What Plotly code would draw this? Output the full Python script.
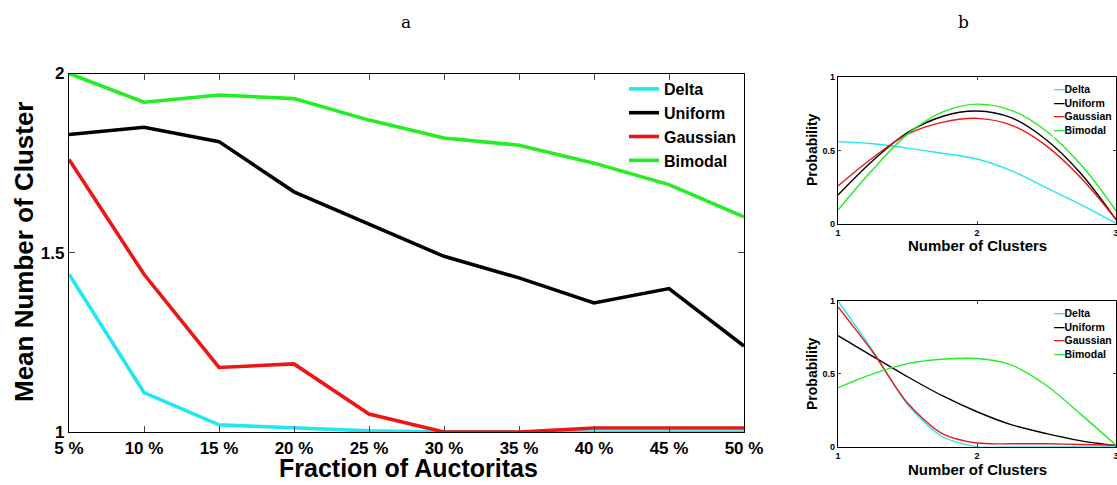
import plotly.graph_objects as go

# ---- main panel (a) ----
fractions = [5, 10, 15, 20, 25, 30, 35, 40, 45, 50]
fraction_labels = ["5 %", "10 %", "15 %", "20 %", "25 %", "30 %", "35 %", "40 %", "45 %", "50 %"]
delta_mean = [1.44, 1.11, 1.02, 1.011, 1.003, 1.0, 1.0, 1.0, 1.0, 1.0]
uniform_mean = [1.83, 1.85, 1.81, 1.67, 1.58, 1.49, 1.43, 1.36, 1.40, 1.24]
gaussian_mean = [1.76, 1.44, 1.18, 1.19, 1.05, 1.0, 1.0, 1.011, 1.011, 1.011]
bimodal_mean = [2.0, 1.92, 1.94, 1.93, 1.87, 1.82, 1.80, 1.75, 1.69, 1.60]

# ---- small panels (b) ----
clusters = [1, 1.25, 1.5, 1.75, 2, 2.25, 2.5, 2.75, 3]
top_delta = [0.559, 0.545, 0.515, 0.48, 0.441, 0.36, 0.245, 0.13, 0.005]
top_uniform = [0.197, 0.43, 0.62, 0.73, 0.767, 0.72, 0.57, 0.34, 0.03]
top_gaussian = [0.258, 0.45, 0.61, 0.69, 0.717, 0.67, 0.53, 0.31, 0.03]
top_bimodal = [0.095, 0.37, 0.61, 0.76, 0.814, 0.77, 0.63, 0.40, 0.09]

bot_delta = [1.0, 0.66, 0.29, 0.07, 0.0, 0.0, 0.0, 0.0, 0.0]
bot_uniform = [0.762, 0.62, 0.48, 0.35, 0.24, 0.15, 0.09, 0.04, 0.007]
bot_gaussian = [0.96, 0.65, 0.30, 0.09, 0.025, 0.02, 0.02, 0.015, 0.01]
bot_bimodal = [0.405, 0.50, 0.57, 0.60, 0.605, 0.56, 0.42, 0.22, 0.01]

names = ["Delta", "Uniform", "Gaussian", "Bimodal"]
colors = ["#22E6F2", "#000000", "#EE1515", "#22EE22"]

FONT = "Liberation Sans, Arial, sans-serif"

fig = go.Figure()

for name, col, ys in zip(names, colors, [delta_mean, uniform_mean, gaussian_mean, bimodal_mean]):
    fig.add_trace(go.Scatter(x=fractions, y=ys, mode="lines", name=name,
                             line=dict(color=col, width=3.6), xaxis="x", yaxis="y"))

for name, col, ys in zip(names, colors, [top_delta, top_uniform, top_gaussian, top_bimodal]):
    fig.add_trace(go.Scatter(x=clusters, y=ys, mode="lines", name=name, showlegend=False,
                             line=dict(color=col, width=1.4, shape="spline"), xaxis="x2", yaxis="y2"))

for name, col, ys in zip(names, colors, [bot_delta, bot_uniform, bot_gaussian, bot_bimodal]):
    fig.add_trace(go.Scatter(x=clusters, y=ys, mode="lines", name=name, showlegend=False,
                             line=dict(color=col, width=1.4, shape="spline", smoothing=0.8),
                             xaxis="x3", yaxis="y3"))

W, H = 1117, 485
def px(x): return x / W
def py(y): return 1 - y / H

axis_common = dict(showline=True, linecolor="black", linewidth=1.2, mirror="ticks",
                   ticks="inside", showgrid=False, zeroline=False, automargin=False)

small_axis = dict(axis_common, ticklen=3, ticklabeloverflow="allow",
                  tickfont=dict(family=FONT, size=9, color="black", weight="bold"))
main_tickfont = dict(family=FONT, size=17, color="black", weight="bold")

fig.update_layout(
    width=W, height=H,
    margin=dict(l=0, r=0, t=0, b=0, autoexpand=False),
    paper_bgcolor="white", plot_bgcolor="white",
    xaxis=dict(axis_common, domain=[px(69), px(744)], range=[5, 50],
               tickvals=fractions, ticktext=fraction_labels, ticklen=6, ticklabelstandoff=0,
               ticklabeloverflow="allow", tickfont=main_tickfont, anchor="y"),
    yaxis=dict(axis_common, domain=[py(432), py(73.5)], range=[1, 2],
               tickvals=[1, 1.5, 2], ticktext=["1", "1.5", "2"], ticklen=6,
               tickfont=main_tickfont, anchor="x"),
    xaxis2=dict(small_axis, domain=[px(838), px(1116)], range=[1, 3],
                tickvals=[1, 2, 3], anchor="y2"),
    yaxis2=dict(small_axis, domain=[py(224), py(76.7)], range=[0, 1],
                tickvals=[0, 0.5, 1], ticktext=["0", "0.5", "1"], anchor="x2"),
    xaxis3=dict(small_axis, domain=[px(838), px(1116)], range=[1, 3],
                tickvals=[1, 2, 3], anchor="y3"),
    yaxis3=dict(small_axis, domain=[py(446.7), py(301)], range=[0, 1],
                tickvals=[0, 0.5, 1], ticktext=["0", "0.5", "1"], anchor="x3"),
    legend=dict(x=px(742), xanchor="right", y=py(72), yanchor="top",
                bgcolor="rgba(255,255,255,0)", borderwidth=0,
                font=dict(family=FONT, size=16, color="black", weight="bold"),
                itemwidth=30, tracegroupgap=0),
    showlegend=True,
)

def small_legend_text():
    rows = []
    for name, col in zip(names, colors):
        rows.append(f"<span style='color:{col}'>\u2014</span>{name}")
    return "<br>".join(rows)

def ann(text, x, y, size, angle=0, family=FONT, weight="bold", **kw):
    d = dict(text=text, x=px(x), y=py(y), xref="paper", yref="paper", showarrow=False,
             textangle=angle, xanchor="center", yanchor="middle",
             font=dict(family=family, size=size, color="black", weight=weight))
    d.update(kw)
    return d

annotations = [
    ann("a", 406, 22, 17, family="DejaVu Serif, Liberation Serif, serif", weight="normal"),
    ann("b", 963, 22, 17, family="DejaVu Serif, Liberation Serif, serif", weight="normal"),
    ann("Mean Number of Cluster", 24, 252, 26, angle=-90),
    ann("Fraction of Auctoritas", 408, 468, 25),
]
for ytitle, xtitle in [(150, 245), (374, 469)]:
    annotations.append(ann("Probability", 812, ytitle, 14, angle=-90))
    annotations.append(ann("Number of Clusters", 977, xtitle, 15))
for ytop in [81, 305]:
    annotations.append(dict(text=small_legend_text(), x=px(1114), y=py(ytop), xref="paper", yref="paper",
                            xanchor="right", yanchor="top", align="left", showarrow=False,
                            bgcolor="white", borderpad=1,
                            font=dict(family=FONT, size=10.5, color="black", weight="bold")))
fig.update_layout(annotations=annotations)

fig.write_html("out.html", config={"displayModeBar": False},
               post_script="document.body.style.margin='0';document.body.style.overflow='hidden';")
